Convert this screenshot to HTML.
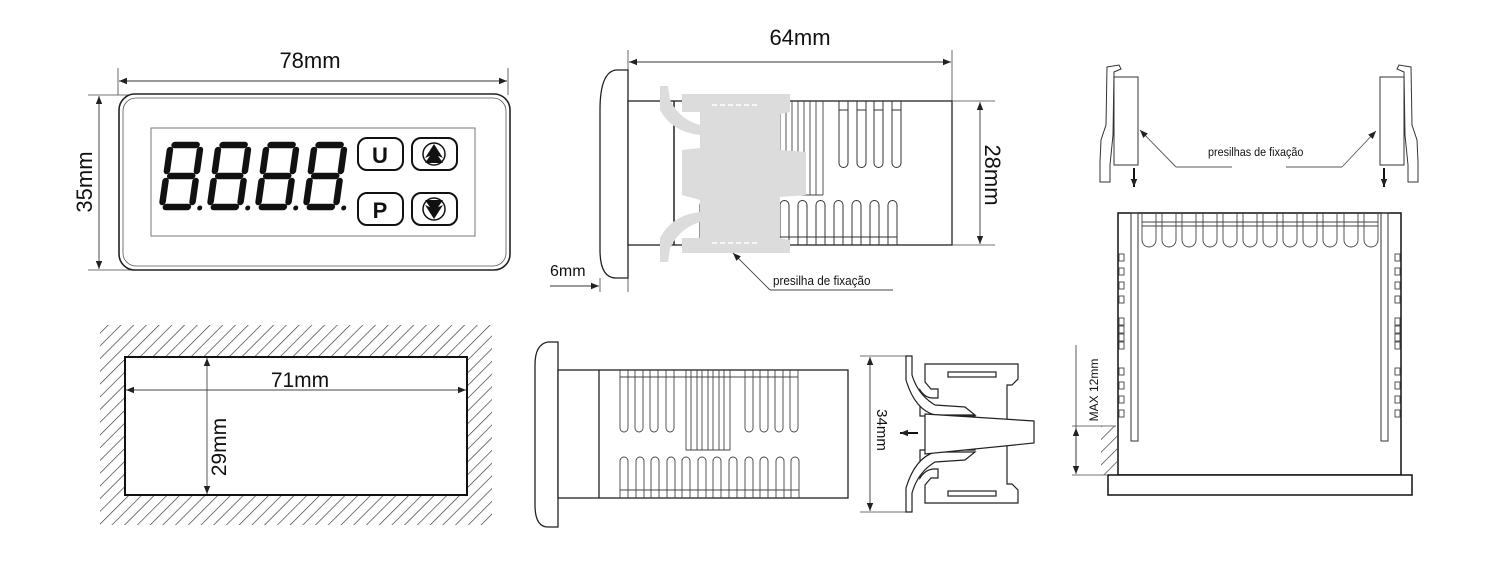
<!DOCTYPE html>
<html><head><meta charset="utf-8"><style>
html,body{margin:0;padding:0;background:#fff;}
svg{display:block;}
text{font-family:"Liberation Sans",sans-serif;fill:#111;}
</style></head><body>
<svg width="1500" height="567" viewBox="0 0 1500 567" xmlns="http://www.w3.org/2000/svg">
<defs>
<marker id="ar" viewBox="0 0 10 10" refX="10" refY="5" markerWidth="10" markerHeight="8" orient="auto-start-reverse" markerUnits="userSpaceOnUse"><path d="M0,1 L10,5 L0,9 Z" fill="#222"/></marker>
<pattern id="hatch" patternUnits="userSpaceOnUse" width="9" height="9" patternTransform="rotate(45)"><line x1="0" y1="0" x2="0" y2="9" stroke="#333" stroke-width="1.3"/></pattern>
<g id="dig" stroke="#111" stroke-width="6.5" fill="none" stroke-linecap="round">
<line x1="7" y1="3" x2="29" y2="3"/><line x1="3" y1="8" x2="3" y2="29"/><line x1="33" y1="8" x2="33" y2="29"/>
<line x1="7" y1="34" x2="29" y2="34"/><line x1="3" y1="39" x2="3" y2="60"/><line x1="33" y1="39" x2="33" y2="60"/>
<line x1="7" y1="65" x2="29" y2="65"/><circle cx="41" cy="66" r="2.5" fill="#111" stroke="none"/>
</g>
</defs>

<!-- ===== Front panel ===== -->
<line x1="118" y1="68" x2="118" y2="95" stroke="#444" stroke-width="0.8"/>
<line x1="508" y1="68" x2="508" y2="95" stroke="#444" stroke-width="0.8"/>
<line x1="119" y1="81" x2="507" y2="81" stroke="#333" stroke-width="0.9" marker-start="url(#ar)" marker-end="url(#ar)"/>
<text x="310" y="68" font-size="22" text-anchor="middle">78mm</text>
<line x1="88" y1="95" x2="200" y2="95" stroke="#444" stroke-width="0.8"/>
<line x1="88" y1="270" x2="200" y2="270" stroke="#444" stroke-width="0.8"/>
<line x1="99" y1="96" x2="99" y2="269" stroke="#333" stroke-width="0.9" marker-start="url(#ar)" marker-end="url(#ar)"/>
<text transform="translate(92,182) rotate(-90)" font-size="22" text-anchor="middle">35mm</text>
<rect x="119" y="94" width="391" height="176" rx="16" fill="#fff" stroke="#222" stroke-width="1.6"/>
<rect x="123" y="98" width="383" height="168" rx="13" fill="none" stroke="#555" stroke-width="0.8"/>
<rect x="151" y="128" width="324" height="108" fill="#fff" stroke="#777" stroke-width="1"/>
<g transform="translate(168,142) skewX(-8)"><use href="#dig"/></g>
<g transform="translate(216,142) skewX(-8)"><use href="#dig"/></g>
<g transform="translate(264,142) skewX(-8)"><use href="#dig"/></g>
<g transform="translate(312,142) skewX(-8)"><use href="#dig"/></g>
<rect x="358" y="138" width="45" height="32" rx="9" fill="#fff" stroke="#111" stroke-width="2"/>
<rect x="412" y="138" width="45" height="32" rx="9" fill="#fff" stroke="#111" stroke-width="2"/>
<rect x="358" y="193" width="45" height="32" rx="9" fill="#fff" stroke="#111" stroke-width="2"/>
<rect x="412" y="193" width="45" height="32" rx="9" fill="#fff" stroke="#111" stroke-width="2"/>
<text x="380" y="163" font-size="22" font-weight="bold" text-anchor="middle">U</text>
<text x="380" y="218" font-size="22" font-weight="bold" text-anchor="middle">P</text>
<circle cx="434" cy="154" r="11" fill="none" stroke="#111" stroke-width="1.5"/>
<path d="M434,144 L443,158 L434,154 L425,158 Z M434,150 L443,163 L425,163 Z" fill="#111"/>
<circle cx="434" cy="209" r="11" fill="none" stroke="#111" stroke-width="1.5"/>
<path d="M434,219 L443,205 L434,209 L425,205 Z M434,213 L443,200 L425,200 Z" fill="#111"/>

<!-- ===== Cutout ===== -->
<rect x="100" y="325" width="392" height="200" fill="url(#hatch)"/>
<rect x="125" y="357" width="342" height="138" fill="#fff" stroke="#111" stroke-width="2"/>
<line x1="126" y1="390" x2="466" y2="390" stroke="#444" stroke-width="0.9" marker-start="url(#ar)" marker-end="url(#ar)"/>
<text x="300" y="387" font-size="21" text-anchor="middle">71mm</text>
<line x1="207" y1="358" x2="207" y2="494" stroke="#444" stroke-width="0.9" marker-start="url(#ar)" marker-end="url(#ar)"/>
<text transform="translate(226,447) rotate(-90)" font-size="21" text-anchor="middle">29mm</text>

<!-- ===== Side view top ===== -->
<line x1="628" y1="50" x2="628" y2="292" stroke="#444" stroke-width="0.8"/>
<line x1="952" y1="50" x2="952" y2="101" stroke="#444" stroke-width="0.8"/>
<line x1="629" y1="62" x2="951" y2="62" stroke="#333" stroke-width="0.9" marker-start="url(#ar)" marker-end="url(#ar)"/>
<text x="800" y="45" font-size="22" text-anchor="middle">64mm</text>
<path d="M628,70 L616,70 Q600,72 600,110 L600,250 Q600,278 616,278 L628,278 Z" fill="#fff" stroke="#222" stroke-width="1.3"/>
<rect x="628" y="101" width="324" height="144" fill="#fff" stroke="#222" stroke-width="1.3"/>
<line x1="674" y1="101" x2="674" y2="245" stroke="#222" stroke-width="1.5"/>
<g stroke="#444" stroke-width="0.9">
<line x1="780" y1="101" x2="780" y2="195"/><line x1="786" y1="101" x2="786" y2="195"/><line x1="792" y1="101" x2="792" y2="195"/><line x1="798" y1="101" x2="798" y2="195"/><line x1="804" y1="101" x2="804" y2="195"/><line x1="810" y1="101" x2="810" y2="195"/><line x1="816" y1="101" x2="816" y2="195"/><line x1="823" y1="101" x2="823" y2="195"/>
<line x1="778" y1="195" x2="823" y2="195"/>
</g>
<path d="M839,101 V163 a4.5,4.5 0 0 0 9,0 V101 M857,101 V163 a4.5,4.5 0 0 0 9,0 V101 M874,101 V163 a4.5,4.5 0 0 0 9,0 V101 M892,101 V163 a4.5,4.5 0 0 0 9,0 V101 M839,110 h9 M857,110 h9 M874,110 h9 M892,110 h9" fill="none" stroke="#333" stroke-width="1"/>
<path d="M780,245 V205 a4.5,4.5 0 0 1 9,0 V245 M798,245 V205 a4.5,4.5 0 0 1 9,0 V245 M816,245 V205 a4.5,4.5 0 0 1 9,0 V245 M834,245 V205 a4.5,4.5 0 0 1 9,0 V245 M852,245 V205 a4.5,4.5 0 0 1 9,0 V245 M870,245 V205 a4.5,4.5 0 0 1 9,0 V245 M888,245 V205 a4.5,4.5 0 0 1 9,0 V245 M700,245 V205 a4.5,4.5 0 0 1 9,0 M780,237 h117" fill="none" stroke="#333" stroke-width="1"/>
<path d="M682,94 L790,94 L790,112 L780,114 L780,150 L806,152 L806,195 L780,197 L780,238 L790,240 L790,253 L682,253 L682,238 L700,238 L700,200 L682,195 L682,150 L700,148 L700,112 L682,112 Z" fill="#dcdcdc"/>
<path d="M660,86 L668,86 L670,100 Q680,120 700,125 L700,135 Q672,132 660,110 Z" fill="#dcdcdc"/>
<path d="M660,262 L668,262 L670,248 Q680,228 700,222 L700,212 Q672,215 660,238 Z" fill="#dcdcdc"/>
<g stroke="#fff" stroke-width="1.5"><line x1="712" y1="105" x2="760" y2="105" stroke-dasharray="5,3"/><line x1="712" y1="243" x2="760" y2="243" stroke-dasharray="5,3"/></g>
<line x1="733" y1="253" x2="770" y2="290" stroke="#444" stroke-width="0.9" marker-start="url(#ar)"/>
<line x1="770" y1="290" x2="893" y2="290" stroke="#444" stroke-width="0.9"/>
<text x="773" y="285" font-size="13" transform="translate(773,285) scale(0.9,1) translate(-773,-285)">presilha de fixação</text>
<line x1="952" y1="101" x2="995" y2="101" stroke="#444" stroke-width="0.8"/>
<line x1="952" y1="245" x2="995" y2="245" stroke="#444" stroke-width="0.8"/>
<line x1="980" y1="102" x2="980" y2="244" stroke="#333" stroke-width="0.9" marker-start="url(#ar)" marker-end="url(#ar)"/>
<text transform="translate(985,175) rotate(90)" font-size="22" text-anchor="middle">28mm</text>
<text x="550" y="276" font-size="16">6mm</text>
<line x1="550" y1="286" x2="599" y2="286" stroke="#333" stroke-width="0.9" marker-end="url(#ar)"/>
<line x1="600" y1="278" x2="600" y2="292" stroke="#444" stroke-width="0.8"/>

<!-- ===== Side view bottom ===== -->
<path d="M558,342 L548,342 Q535,344 535,365 L535,505 Q535,527 548,527 L558,527 Z" fill="#fff" stroke="#222" stroke-width="1.3"/>
<rect x="558" y="370" width="290" height="128" fill="#fff" stroke="#222" stroke-width="1.3"/>
<line x1="599" y1="370" x2="599" y2="498" stroke="#222" stroke-width="1.3"/>
<path d="M620,370 V428 a4,4 0 0 0 8,0 V370 M635,370 V428 a4,4 0 0 0 8,0 V370 M650,370 V428 a4,4 0 0 0 8,0 V370 M666,370 V428 a4,4 0 0 0 8,0 V370 M745,370 V428 a4,4 0 0 0 8,0 V370 M760,370 V428 a4,4 0 0 0 8,0 V370 M775,370 V428 a4,4 0 0 0 8,0 V370 M790,370 V428 a4,4 0 0 0 8,0 V370 M620,377 h178" fill="none" stroke="#444" stroke-width="0.9"/>
<path d="M686,370 V450 H730 V370 M691,370 V450 M697,370 V450 M702,370 V450 M708,370 V450 M713,370 V450 M719,370 V450 M724,370 V450" fill="none" stroke="#444" stroke-width="0.9"/>
<path d="M620,498 V461 a4,4 0 0 1 8,0 V498 M636,498 V461 a4,4 0 0 1 8,0 V498 M651,498 V461 a4,4 0 0 1 8,0 V498 M667,498 V461 a4,4 0 0 1 8,0 V498 M682,498 V461 a4,4 0 0 1 8,0 V498 M698,498 V461 a4,4 0 0 1 8,0 V498 M713,498 V461 a4,4 0 0 1 8,0 V498 M729,498 V461 a4,4 0 0 1 8,0 V498 M745,498 V461 a4,4 0 0 1 8,0 V498 M760,498 V461 a4,4 0 0 1 8,0 V498 M776,498 V461 a4,4 0 0 1 8,0 V498 M791,498 V461 a4,4 0 0 1 8,0 V498 M620,490 h179" fill="none" stroke="#444" stroke-width="0.9"/>

<!-- clip bottom view -->
<line x1="860" y1="356" x2="908" y2="356" stroke="#444" stroke-width="0.8"/>
<line x1="860" y1="512" x2="908" y2="512" stroke="#444" stroke-width="0.8"/>
<line x1="870" y1="357" x2="870" y2="511" stroke="#333" stroke-width="0.9" marker-start="url(#ar)" marker-end="url(#ar)"/>
<text transform="translate(877,430) rotate(90)" font-size="15" text-anchor="middle">34mm</text>
<line x1="918" y1="433" x2="900" y2="433" stroke="#111" stroke-width="2" marker-end="url(#ar)"/>
<g fill="#fff" stroke="#222" stroke-width="1.2">
<path d="M925,364 L1018,364 L1018,379 L1012,385 L1007,385 L1007,484 L1012,484 L1018,490 L1018,503 L925,503 L925,485 L931,478 L938,478 L938,469 L933,469 Q925,470 920,478 L920,450 L975,450 L975,416 L920,416 L920,390 Q925,398 933,398 L938,398 L938,389 L931,389 L925,382 Z"/>
<path d="M906,356 L912,356 L912,375 Q918,395 935,405 L965,407 L975,415 L935,415 Q915,410 906,380 Z"/>
<path d="M906,512 L912,512 L912,493 Q918,472 935,462 L965,460 L975,452 L935,452 Q915,458 906,488 Z"/>
<path d="M925,414 L1034,421 L1034,443 L925,454 Z"/>
<rect x="948" y="372" width="48" height="5"/>
<rect x="948" y="491" width="48" height="5"/>
</g>

<!-- ===== Right view ===== -->
<g fill="#fff" stroke="#333" stroke-width="1">
<path d="M1107,67 L1119,65 L1121,69 L1114,72 L1113,135 L1110,165 L1110,182 L1100,182 L1100,162 L1101,140 L1106,125 Z"/>
<rect x="1114" y="77" width="24" height="88"/>
<path d="M1411,67 L1399,65 L1397,69 L1404,72 L1405,135 L1408,165 L1408,182 L1418,182 L1418,162 L1417,140 L1412,125 Z"/>
<rect x="1380" y="77" width="24" height="88"/>
</g>
<line x1="1134" y1="168" x2="1134" y2="187" stroke="#111" stroke-width="2" marker-end="url(#ar)"/>
<line x1="1384" y1="168" x2="1384" y2="187" stroke="#111" stroke-width="2" marker-end="url(#ar)"/>
<line x1="1176" y1="167" x2="1140" y2="130" stroke="#555" stroke-width="0.9" marker-end="url(#ar)"/>
<line x1="1176" y1="167" x2="1232" y2="167" stroke="#555" stroke-width="0.9"/>
<line x1="1342" y1="167" x2="1376" y2="131" stroke="#555" stroke-width="0.9" marker-end="url(#ar)"/>
<line x1="1286" y1="167" x2="1342" y2="167" stroke="#555" stroke-width="0.9"/>
<text x="1208" y="156" font-size="12" transform="translate(1208,156) scale(0.9,1) translate(-1208,-156)">presilhas de fixação</text>

<rect x="1118" y="213" width="283" height="262" fill="#fff" stroke="#111" stroke-width="1.5"/>
<rect x="1108" y="475" width="304" height="20" fill="#fff" stroke="#111" stroke-width="1.5"/>
<rect x="1131" y="213" width="7" height="228" fill="none" stroke="#333" stroke-width="1"/>
<rect x="1381" y="213" width="7" height="228" fill="none" stroke="#333" stroke-width="1"/>
<path d="M1142,213 V240 a7,7 0 0 0 14,0 V213 M1162,213 V240 a7,7 0 0 0 14,0 V213 M1182,213 V240 a7,7 0 0 0 14,0 V213 M1203,213 V240 a7,7 0 0 0 14,0 V213 M1223,213 V240 a7,7 0 0 0 14,0 V213 M1243,213 V240 a7,7 0 0 0 14,0 V213 M1263,213 V240 a7,7 0 0 0 14,0 V213 M1283,213 V240 a7,7 0 0 0 14,0 V213 M1303,213 V240 a7,7 0 0 0 14,0 V213 M1323,213 V240 a7,7 0 0 0 14,0 V213 M1344,213 V240 a7,7 0 0 0 14,0 V213 M1364,213 V240 a7,7 0 0 0 14,0 V213 M1142,222 H1378 M1142,226 H1378" fill="none" stroke="#444" stroke-width="0.9"/>
<g fill="none" stroke="#444" stroke-width="0.9">
<rect x="1119" y="254" width="5" height="7"/><rect x="1119" y="268" width="5" height="7"/><rect x="1119" y="282" width="5" height="7"/><rect x="1119" y="296" width="5" height="7"/>
<rect x="1119" y="318" width="5" height="7"/><rect x="1119" y="326" width="5" height="7"/><rect x="1119" y="334" width="5" height="7"/><rect x="1119" y="342" width="5" height="7"/>
<rect x="1119" y="368" width="5" height="7"/><rect x="1119" y="382" width="5" height="7"/><rect x="1119" y="396" width="5" height="7"/><rect x="1119" y="410" width="5" height="7"/>
<rect x="1395" y="254" width="5" height="7"/><rect x="1395" y="268" width="5" height="7"/><rect x="1395" y="282" width="5" height="7"/><rect x="1395" y="296" width="5" height="7"/>
<rect x="1395" y="318" width="5" height="7"/><rect x="1395" y="326" width="5" height="7"/><rect x="1395" y="334" width="5" height="7"/><rect x="1395" y="342" width="5" height="7"/>
<rect x="1395" y="368" width="5" height="7"/><rect x="1395" y="382" width="5" height="7"/><rect x="1395" y="396" width="5" height="7"/><rect x="1395" y="410" width="5" height="7"/>
</g>
<rect x="1101" y="426" width="16" height="49" fill="url(#hatch)"/>
<line x1="1072" y1="426" x2="1116" y2="426" stroke="#444" stroke-width="0.8"/>
<line x1="1072" y1="475" x2="1108" y2="475" stroke="#444" stroke-width="0.8"/>
<line x1="1076" y1="345" x2="1076" y2="474" stroke="#333" stroke-width="0.8"/>
<line x1="1076" y1="428" x2="1076" y2="474" stroke="#333" stroke-width="0.8" marker-start="url(#ar)" marker-end="url(#ar)"/>
<text transform="translate(1098,390) rotate(-90)" font-size="12" text-anchor="middle">MAX 12mm</text>
</svg>
</body></html>
